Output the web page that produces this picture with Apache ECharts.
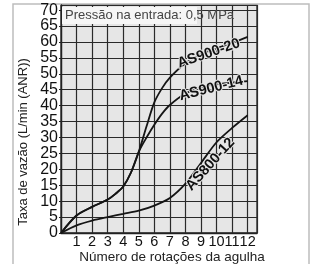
<!DOCTYPE html>
<html>
<head>
    <meta charset="utf-8">
    <title>Taxa de vazão</title>
    <script src="https://cdn.jsdelivr.net/npm/echarts@6/dist/echarts.min.js"></script>
    <style>
        html, body { margin: 0; padding: 0; background: #fff; }
        #chart { width: 314px; height: 264px; }
    </style>
</head>
<body>
    <div id="chart"></div>
    <script type="text/javascript">
        // rotações (eixo x) e vazão L/min (ANR)
        var turnsA = [0, 1, 2, 3, 3.5, 4, 4.5, 5, 5.5, 6, 6.5, 7, 8, 9, 10, 11, 12];
        var as900_20 = [0, 5.5, 8.2, 10.5, 12.3, 14.6, 19, 25.5, 33.5, 41, 45.5, 48.8, 53.3, 56.2, 58, 59.7, 61.6];
        var as900_14 = [0, 5.5, 8.2, 10.5, 12.3, 14.6, 19, 25.5, 30, 34, 37.5, 40.2, 43.8, 45.8, 46.7, 47.2, 47.7];
        var turnsB = [0, 1, 2, 3, 4, 5, 6, 7, 8, 9, 10, 11, 12];
        var as800_12 = [0, 2.4, 3.9, 5, 6, 7, 8.6, 11, 15.5, 22, 28.5, 33, 37];

        var xTicks = [1, 2, 3, 4, 5, 6, 7, 8, 9, 10, 11, 12];
        var yTicks = [0, 5, 10, 15, 20, 25, 30, 35, 40, 45, 50, 55, 60, 65, 70];

        // rótulos das curvas: [texto, x, y, ângulo]
        var curveLabels = [
            ['AS900-20', 9.5, 56.4, 19],
            ['AS900-14', 9.65, 45.4, 14],
            ['AS800-12', 9.6, 21.6, 48]
        ];

        function pairs(xs, ys) {
            var out = [];
            for (var i = 0; i < xs.length; i++) out.push([xs[i], ys[i]]);
            return out;
        }

        var font = '"Liberation Sans", Arial, sans-serif';
        var chart = echarts.init(document.getElementById('chart'), null, { renderer: 'canvas' });

        var lineStyle = { color: '#151515', width: 1.8 };

        var option = {
            animation: false,
            grid: {
                left: 61, top: 5, width: 196, height: 228,
                show: true,
                backgroundColor: '#e6e6e6',
                borderColor: '#222',
                borderWidth: 1.3
            },
            xAxis: {
                type: 'value',
                min: 0,
                max: 12.6,
                interval: 1,
                axisLine: { show: true, lineStyle: { color: '#222', width: 1.3 } },
                axisTick: { show: false },
                axisLabel: {
                    fontFamily: font, fontSize: 14.5, color: '#111', margin: 1,
                    showMaxLabel: false,
                    formatter: function (v) {
                        return xTicks.indexOf(v) >= 0 ? String(v) : '';
                    }
                },
                splitLine: { show: true, lineStyle: { color: '#2a2a2a', width: 1.2 } }
            },
            yAxis: {
                type: 'value',
                min: 0,
                max: 71.6,
                interval: 5,
                axisLine: { show: true, lineStyle: { color: '#222', width: 1.3 } },
                axisTick: { show: true, length: 2, lineStyle: { color: '#222' } },
                axisLabel: {
                    fontFamily: font, fontSize: 16, color: '#111', margin: 3,
                    showMaxLabel: false,
                    formatter: function (v) {
                        return yTicks.indexOf(v) >= 0 ? String(v) : '';
                    }
                },
                splitLine: { show: true, lineStyle: { color: '#2a2a2a', width: 1.2 } }
            },
            series: [
                {
                    name: 'AS900-20', type: 'line', smooth: 0.3, showSymbol: false,
                    data: pairs(turnsA, as900_20), lineStyle: lineStyle, z: 5
                },
                {
                    name: 'AS900-14', type: 'line', smooth: 0.3, showSymbol: false,
                    data: pairs(turnsA, as900_14), lineStyle: lineStyle, z: 5
                },
                {
                    name: 'AS800-12', type: 'line', smooth: 0.3, showSymbol: false,
                    data: pairs(turnsB, as800_12), lineStyle: lineStyle, z: 5
                }
            ]
        };
        chart.setOption(option);

        var graphics = [
            // moldura externa
            {
                type: 'rect', z: 0, silent: true,
                shape: { x: 13, y: 4, width: 296, height: 270 },
                style: { fill: 'none', stroke: '#bdbdbd', lineWidth: 1.5 }
            },
            // caixa da pressão
            {
                type: 'rect', z: 10,
                shape: { x: 62, y: 7, width: 135, height: 17 },
                style: { fill: '#f6f6f6' }
            },
            {
                type: 'text', z: 11, x: 65, y: 15.5,
                style: {
                    text: 'Pressão na entrada: 0,5 MPa', fontFamily: font,
                    fontSize: 13, fill: '#444', verticalAlign: 'middle'
                }
            },
            // títulos dos eixos
            {
                type: 'text', z: 11, x: 23, y: 142, rotation: Math.PI / 2,
                style: {
                    text: 'Taxa de vazão (L/min (ANR))', fontFamily: font,
                    fontSize: 13, fill: '#222', align: 'center', verticalAlign: 'middle'
                }
            },
            {
                type: 'text', z: 11, x: 172, y: 257,
                style: {
                    text: 'Número de rotações da agulha', fontFamily: font,
                    fontSize: 13.5, fill: '#222', align: 'center', verticalAlign: 'middle'
                }
            }
        ];
        curveLabels.forEach(function (c) {
            var p = chart.convertToPixel({ gridIndex: 0 }, [c[1], c[2]]);
            graphics.push({
                type: 'text', z: 12, x: p[0], y: p[1],
                rotation: c[3] * Math.PI / 180,
                style: {
                    text: c[0], fontFamily: font, fontSize: 14.5, fontWeight: 'bold',
                    fill: '#111', align: 'center', verticalAlign: 'middle',
                    stroke: '#e6e6e6', lineWidth: 2
                }
            });
        });
        chart.setOption({ graphic: graphics });
    </script>
</body>
</html>
